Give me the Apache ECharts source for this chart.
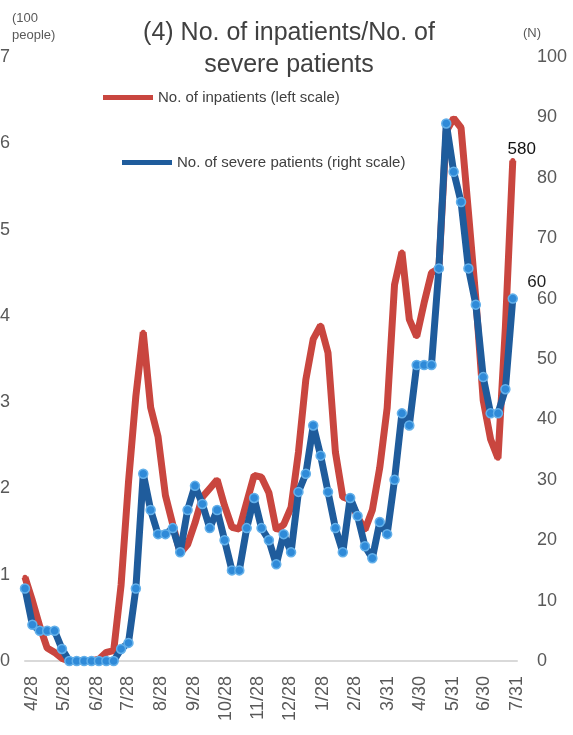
<!DOCTYPE html>
<html>
<head>
<meta charset="utf-8">
<script src="https://cdn.jsdelivr.net/npm/echarts@6/dist/echarts.min.js"></script>
<style>
html,body{margin:0;padding:0;background:#fff;}
#chart{width:573px;height:735px;}
</style>
</head>
<body>
<div id="chart"></div>
<script>
// weekly observation dates
var weekDates = [
'2020-04-21','2020-04-28','2020-05-05','2020-05-12','2020-05-19','2020-05-26',
'2020-06-02','2020-06-09','2020-06-16','2020-06-23','2020-06-30',
'2020-07-07','2020-07-14','2020-07-21','2020-07-28',
'2020-08-04','2020-08-11','2020-08-18','2020-08-25',
'2020-09-01','2020-09-08','2020-09-15','2020-09-22','2020-09-29',
'2020-10-06','2020-10-13','2020-10-20','2020-10-27',
'2020-11-03','2020-11-10','2020-11-17','2020-11-24',
'2020-12-01','2020-12-08','2020-12-15','2020-12-22','2020-12-29',
'2021-01-05','2021-01-12','2021-01-19','2021-01-26',
'2021-02-02','2021-02-09','2021-02-16','2021-02-23',
'2021-03-02','2021-03-09','2021-03-16','2021-03-23','2021-03-30',
'2021-04-06','2021-04-13','2021-04-20','2021-04-27',
'2021-05-04','2021-05-11','2021-05-18','2021-05-25',
'2021-06-01','2021-06-08','2021-06-15','2021-06-22','2021-06-29',
'2021-07-06','2021-07-13','2021-07-20','2021-07-27'
];
// No. of inpatients (hundreds of people, left scale)
var inpatients = [
0.97,0.70,0.40,0.15,0.10,0.03,
0,0,0,0,0.02,
0.10,0.12,0.88,2.07,
3.07,3.81,2.94,2.60,
1.92,1.58,1.25,1.35,1.60,
1.90,2.00,2.10,1.80,
1.55,1.53,1.84,2.15,
2.13,1.95,1.52,1.58,1.78,
2.42,3.26,3.73,3.89,
3.57,2.42,1.90,1.87,
1.67,1.52,1.75,2.24,2.93,
4.36,4.74,3.96,3.76,
4.15,4.50,4.55,6.14,
6.29,6.18,5.20,4.20,3.02,
2.57,2.35,3.87,5.80
];
// No. of severe patients (right scale)
var severe = [
12,6,5,5,5,2,
0,0,0,0,0,
0,0,2,3,
12,31,25,21,
21,22,18,25,29,
26,22,25,20,
15,15,22,27,
22,20,16,21,18,
28,31,39,34,
28,22,18,27,
24,19,17,23,21,
30,41,39,49,
49,49,65,89,
81,76,65,59,47,
41,41,45,60
];
var tickDates = ['2020-04-28','2020-05-28','2020-06-28','2020-07-28','2020-08-28','2020-09-28','2020-10-28','2020-11-28','2020-12-28','2021-01-28','2021-02-28','2021-03-31','2021-04-30','2021-05-31','2021-06-30','2021-07-31'];
var tickLabels = ['4/28','5/28','6/28','7/28','8/28','9/28','10/28','11/28','12/28','1/28','2/28','3/31','4/30','5/31','6/30','7/31'];
var leftTicks = ['0','1','2','3','4','5','6','7'];
var rightTicks = ['0','10','20','30','40','50','60','70','80','90','100'];
var seriesNames = ['No. of inpatients (left scale)','No. of severe patients (right scale)'];

// day number (UTC) of a yyyy-mm-dd string
var dayNum = function(s){ var p = s.split('-'); return Date.UTC(+p[0], +p[1]-1, +p[2]) / 86400000; };
var tickDays = tickDates.map(dayNum);
var lastIdx = weekDates.length - 1;

function pairs(vals, labelCfg){
  return vals.map(function(v,i){
    var d = {value:[dayNum(weekDates[i]), v]};
    if(i === lastIdx && labelCfg) d.label = labelCfg;
    return d;
  });
}

var font = 'Liberation Sans, Arial, sans-serif';
var chart = echarts.init(document.getElementById('chart'), null, {renderer:'canvas'});
chart.setOption({
  animation:false,
  backgroundColor:'#ffffff',
  title:{
    text:'(4) No. of inpatients/No. of\nsevere patients',
    left:284, top:12, textAlign:'center',
    textStyle:{fontFamily:font, fontSize:25, fontWeight:'normal', color:'#404040', lineHeight:32}
  },
  legend:[
    {data:[{name:seriesNames[0], icon:'rect', itemStyle:{color:'#c9463f', borderWidth:0}}], left:98, top:85, itemWidth:50, itemHeight:5, itemGap:0,
     textStyle:{fontFamily:font, fontSize:15, color:'#404040'}},
    {data:[{name:seriesNames[1], icon:'rect', itemStyle:{color:'#1f5c9c', borderWidth:0}}], left:117, top:150, itemWidth:50, itemHeight:5, itemGap:0,
     textStyle:{fontFamily:font, fontSize:15, color:'#404040'}}
  ],
  grid:{left:25, right:56, top:57, bottom:74, containLabel:false, outerBoundsMode:'none'},
  xAxis:{
    type:'value',
    min:dayNum(weekDates[0]), max:tickDays[tickDays.length-1],
    axisLine:{show:true, lineStyle:{color:'#d9d9d9', width:2}},
    axisTick:{show:false},
    splitLine:{show:false},
    axisLabel:{
      customValues:tickDays,
      rotate:90, margin:15, fontFamily:font, fontSize:18, color:'#595959',
      hideOverlap:false,
      formatter:function(v){
        var k = tickDays.indexOf(Math.round(v));
        return k >= 0 ? tickLabels[k] : '';
      }
    }
  },
  yAxis:[
    {type:'value', min:0, max:7, interval:1, position:'left',
     axisLine:{show:false}, axisTick:{show:false}, splitLine:{show:false},
     axisLabel:{margin:15, fontFamily:font, fontSize:18, color:'#595959',
       formatter:function(v){ return leftTicks[Math.round(v)]; }}},
    {type:'value', min:0, max:100, interval:10, position:'right',
     axisLine:{show:false}, axisTick:{show:false}, splitLine:{show:false},
     axisLabel:{margin:20, fontFamily:font, fontSize:18, color:'#595959',
       formatter:function(v){ return rightTicks[Math.round(v/10)]; }}}
  ],
  series:[
    {name:seriesNames[0], type:'line', yAxisIndex:0,
     data:pairs(inpatients, {show:true, position:'top', offset:[9,5], fontFamily:font, fontSize:17, color:'#111',
       formatter:function(p){ return String(Math.round(p.value[1]*100)); }}),
     lineStyle:{color:'#c9463f', width:7},
     itemStyle:{color:'#c9463f'},
     symbol:'circle', symbolSize:5, showAllSymbol:true, z:2},
    {name:seriesNames[1], type:'line', yAxisIndex:1,
     data:pairs(severe, {show:true, position:'top', offset:[24,2], fontFamily:font, fontSize:17, color:'#222',
       formatter:function(p){ return String(p.value[1]); }}),
     lineStyle:{color:'#1f5c9c', width:7},
     itemStyle:{color:'#2f8ad8', borderColor:'#63b0ea', borderWidth:1.5},
     symbol:'circle', symbolSize:9, showAllSymbol:true, z:3}
  ],
  graphic:[
    {type:'text', left:12, top:10, style:{text:'(100\npeople)', font:'13px '+font, fill:'#595959', lineHeight:17}},
    {type:'text', left:523, top:27, style:{text:'(N)', font:'13px '+font, fill:'#595959'}}
  ]
});
</script>
</body>
</html>
